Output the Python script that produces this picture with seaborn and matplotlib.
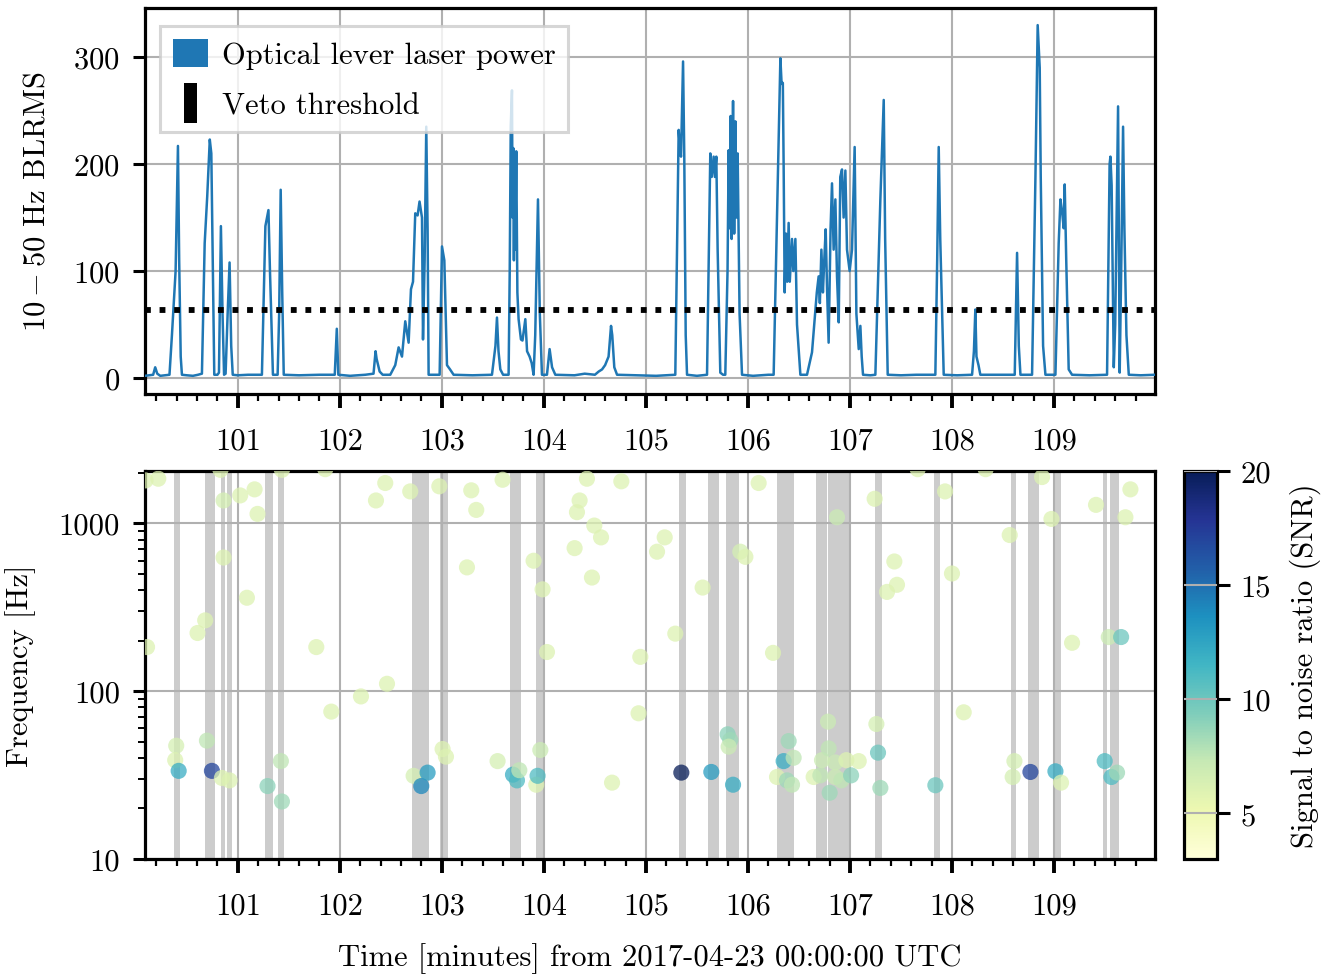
import numpy as np
import pandas as pd
import matplotlib
matplotlib.use("Agg")
import matplotlib.pyplot as plt
import seaborn as sns
from matplotlib.patches import Patch, Rectangle
from matplotlib.legend_handler import HandlerPatch
from matplotlib.ticker import MultipleLocator, FixedLocator, FuncFormatter, LogLocator, NullFormatter
from matplotlib.colors import Normalize
from matplotlib.cm import ScalarMappable

# ---------------- data ----------------
blrms_time = [
    100.09, 100.17, 100.19, 100.21, 100.24, 100.33, 100.354, 100.39, 100.413, 100.425, 100.44, 100.452,
    100.50, 100.56, 100.61, 100.648, 100.675, 100.70, 100.725, 100.74, 100.755, 100.769, 100.80, 100.815,
    100.834, 100.85, 100.865, 100.88, 100.90, 100.919, 100.935, 100.95, 101.00, 101.10, 101.236, 101.27,
    101.30, 101.315, 101.344, 101.39, 101.405, 101.42, 101.435, 101.45, 101.60, 101.80, 101.95, 101.97,
    101.985, 102.10, 102.25, 102.33, 102.35, 102.36, 102.39, 102.42, 102.494, 102.543, 102.576, 102.609,
    102.641, 102.674, 102.697, 102.717, 102.739, 102.762, 102.781, 102.805, 102.815, 102.831, 102.847,
    102.860, 102.870, 102.95, 102.978, 103.001, 103.024, 103.050, 103.08, 103.115, 103.30, 103.491,
    103.525, 103.540, 103.555, 103.573, 103.60, 103.654, 103.665, 103.675, 103.687, 103.693, 103.700,
    103.706, 103.712, 103.719, 103.729, 103.740, 103.752, 103.775, 103.790, 103.818, 103.835, 103.860,
    103.880, 103.899, 103.915, 103.942, 103.960, 103.981, 104.03, 104.056, 104.08, 104.112, 104.30,
    104.40, 104.50, 104.537, 104.57, 104.60, 104.634, 104.658, 104.67, 104.69, 104.717, 104.90, 105.10,
    105.288, 105.321, 105.333, 105.344, 105.364, 105.376, 105.39, 105.403, 105.50, 105.599, 105.631,
    105.645, 105.664, 105.676, 105.690, 105.703, 105.729, 105.756, 105.778, 105.800, 105.811, 105.82,
    105.83, 105.84, 105.854, 105.865, 105.877, 105.888, 105.899, 105.918, 105.942, 106.05, 106.20,
    106.252, 106.285, 106.318, 106.330, 106.342, 106.350, 106.36, 106.373, 106.385, 106.399, 106.41,
    106.432, 106.445, 106.465, 106.481, 106.514, 106.579, 106.628, 106.65, 106.675, 106.693, 106.705,
    106.720, 106.735, 106.748, 106.762, 106.775, 106.791, 106.81, 106.824, 106.840, 106.857, 106.873,
    106.890, 106.905, 106.922, 106.938, 106.955, 106.971, 106.997, 107.020, 107.046, 107.063, 107.086,
    107.102, 107.115, 107.128, 107.20, 107.249, 107.275, 107.298, 107.331, 107.345, 107.370, 107.50,
    107.65, 107.837, 107.855, 107.870, 107.885, 107.919, 108.05, 108.197, 108.215, 108.229, 108.24,
    108.26, 108.278, 108.45, 108.615, 108.638, 108.655, 108.671, 108.785, 108.818, 108.840, 108.860,
    108.870, 108.893, 108.916, 109.014, 109.046, 109.063, 109.08, 109.095, 109.105, 109.12, 109.144,
    109.177, 109.35, 109.520, 109.545, 109.553, 109.565, 109.586, 109.60, 109.628, 109.644, 109.66,
    109.677, 109.690, 109.710, 109.733, 109.85, 109.99,
]
blrms_value = [
    2, 3, 10, 4, 2, 3, 40, 100, 217, 110, 20, 3,
    2.5, 2, 3, 4, 126, 170, 223, 210, 100, 3, 3, 5,
    142, 60, 3, 4, 60, 108, 30, 3, 2.5, 3, 3, 142,
    157, 100, 3, 3, 60, 176, 80, 3, 2.5, 3, 3, 46,
    3, 2, 3, 4, 25, 18, 6, 3, 3, 12, 28.6, 20,
    53, 33, 83, 90, 154, 152, 165, 150, 36, 110, 235,
    139, 3, 3, 3, 123, 110, 12, 8, 3, 2.5, 3,
    30, 56.5, 25, 8, 3, 3, 100, 235, 269, 150, 215,
    110, 205, 120, 212, 80, 55, 36, 35, 55, 25, 20,
    14, 3, 40, 167, 60, 3, 3, 27, 10, 3, 2.5,
    4, 3, 6, 8, 12, 20, 48.7, 40, 10, 3, 2.5, 2,
    3, 232, 215, 207, 296, 207, 40, 3, 2, 3, 210,
    188, 207, 188, 207, 120, 5, 3, 3, 100, 213, 140,
    245, 130, 259, 135, 240, 150, 210, 60, 3, 2, 3,
    3, 151, 299, 275, 276, 198, 80, 135, 90, 145, 90,
    130, 100, 130, 50, 3, 3, 24, 50, 80, 95, 70,
    120, 80, 110, 139, 85, 33, 140, 182, 120, 167, 95,
    52, 188, 195, 150, 194, 120, 100, 120, 216, 60, 27,
    48.7, 20, 3, 2.5, 3, 90, 167, 260, 130, 3, 2.5,
    3, 3, 110, 216, 130, 3, 2.5, 3, 25, 64, 20,
    12, 3, 3, 3, 117, 30, 3, 3, 188, 330, 290,
    188, 30, 3, 3, 126, 167, 155, 140, 181, 110, 8,
    3, 2.5, 3, 200, 207, 180, 10, 50, 254, 5, 110,
    235, 140, 40, 3, 2.5, 3,
]
veto_threshold = 64

veto_start = [100.376, 100.68, 100.836, 100.89, 101.269, 101.39, 102.71, 102.984, 103.664, 103.922,
              105.32, 105.609, 105.785, 106.285, 106.668, 106.781, 107.249, 107.828, 108.582, 108.746,
              108.997, 109.481, 109.553]
veto_end = [100.435, 100.78, 100.876, 100.94, 101.34, 101.448, 102.874, 103.056, 103.778, 103.987,
            105.396, 105.713, 105.909, 106.455, 106.775, 106.997, 107.315, 107.879, 108.628, 108.85,
            109.07, 109.52, 109.641]

trig_time = [
    100.22, 100.095, 100.83, 100.86, 101.023, 101.164, 101.193, 101.432, 101.857, 102.354, 102.445,
    102.69, 102.975, 103.288, 103.337, 103.595, 104.301, 104.324, 104.35, 104.422, 104.471, 104.494,
    104.56, 104.759, 105.109, 105.184, 105.288, 105.556, 105.925, 105.975, 106.105, 106.246, 106.873,
    107.242, 107.363, 107.435, 107.461, 107.664, 107.932, 108.0, 108.115, 108.33, 108.566, 108.883,
    108.975, 109.177, 109.412, 109.537, 109.658, 109.70, 109.749,
    100.11, 100.605, 100.68, 100.86, 101.089, 101.769, 101.916, 102.207, 102.462, 103.246, 103.899,
    103.987, 104.03, 104.928, 104.945, 106.785, 107.259,
    100.396, 100.386, 100.42, 100.697, 100.746, 100.844, 100.919, 101.291, 101.422, 101.432, 102.723,
    102.798, 102.860, 103.007, 103.04, 103.546, 103.697, 103.736, 103.759, 103.925, 103.938, 103.965,
    104.668, 105.347, 105.641, 105.801, 105.827, 105.811, 105.854, 106.285, 106.350, 106.399, 106.448,
    106.383, 106.432, 106.644, 106.71, 106.726, 106.791, 106.801, 106.857, 106.857, 106.916, 106.965,
    107.011, 107.086, 107.275, 107.298, 107.837, 108.595, 108.612, 108.769, 109.014, 109.069, 109.497,
    109.563, 109.618,
]
trig_freq = [
    1842, 1800, 2080, 1367, 1465, 1592, 1137, 2080, 2100, 1367, 1737,
    1548, 1660, 1571, 1201, 1816, 711, 1164, 1367, 1842, 475, 969,
    824, 1778, 677, 824, 220, 414, 677, 631, 1737, 169, 1086,
    1399, 390, 592, 430, 2100, 1548, 502, 74.8, 2100, 851, 1885,
    1061, 194, 1287, 210, 210, 1086, 1592,
    183, 222, 264, 625, 360, 183, 75.5, 93, 110.6, 546, 598,
    404, 171, 73.8, 160, 65.8, 63.7,
    47.3, 38.8, 33.5, 50.7, 33.5, 30.4, 29.4, 27.2, 38.3, 22.0, 31.3,
    27.2, 32.7, 45.2, 40.7, 38.3, 31.8, 29.4, 33.8, 27.7, 31.3, 44.6,
    28.5, 32.7, 33.0, 55.3, 51.1, 46.7, 27.7, 30.8, 38.3, 50.4, 40.1,
    29.4, 27.7, 30.8, 31.5, 38.8, 45.6, 24.8, 37.6, 30.8, 29.4, 38.8,
    31.5, 38.3, 43.0, 26.5, 27.5, 30.8, 38.3, 33.0, 33.3, 28.5, 38.3,
    30.8, 32.7,
]
trig_snr = [
    6, 6, 6, 6.5, 6, 6, 6, 6, 6, 6, 6,
    6, 6, 6, 6, 6, 6, 6, 6, 6, 6, 6,
    6, 6, 6, 6, 6, 6, 6.5, 6, 6, 6, 7,
    6, 6, 6, 6, 6, 6, 6, 6, 6, 6, 6,
    6, 6, 6, 7, 10, 6, 6,
    6, 6, 6, 6, 6, 6, 6, 6, 6, 6, 6,
    6, 6, 6, 6, 7, 6.5,
    6.5, 6, 12, 7.5, 17, 6, 6, 9, 7.5, 8.5, 6.5,
    14, 13, 6, 6, 6.5, 12, 11, 7.5, 6, 11, 7,
    6, 20, 13, 9, 8.5, 7, 12, 6, 12, 8.5, 7.5,
    8.5, 7.5, 6, 7.5, 7, 7.5, 8.5, 7, 7, 7.5, 6,
    9, 6, 10, 8.5, 10, 6.5, 6.5, 17, 12, 6, 11,
    11, 8.5,
]
snr_min, snr_max = 3, 20
cbar_ticks = [5, 10, 15, 20]
freq_ticks = [10, 100, 1000]
power_ticks = [0, 100, 200, 300]

# ---------------- style ----------------
sns.set_theme(style="whitegrid")
FS = 22
plt.rcParams.update({
    "font.family": ["cmr10", "DejaVu Serif"],
    "mathtext.fontset": "cm",
    "axes.formatter.use_mathtext": True,
    "axes.unicode_minus": False,
    "font.size": FS,
    "axes.labelsize": FS,
    "xtick.labelsize": FS,
    "ytick.labelsize": FS,
    "legend.fontsize": FS,
    "axes.edgecolor": "black",
    "axes.linewidth": 2.3,
    "grid.color": "#b0b0b0",
    "grid.linewidth": 1.5,
    "xtick.color": "black",
    "ytick.color": "black",
    "text.color": "black",
    "axes.labelcolor": "black",
})

W, H = 1324, 979
fig = plt.figure(figsize=(W / 100, H / 100), dpi=100)
ax1 = fig.add_axes([145 / W, 1 - 395 / H, 1010 / W, 386 / H])
ax2 = fig.add_axes([145 / W, 1 - 860 / H, 1010 / W, 388 / H])
cax = fig.add_axes([1184 / W, 1 - 860 / H, 33 / W, 388 / H])

blue = "#1f77b4"

# ---------------- top panel ----------------
df_line = pd.DataFrame({"time": blrms_time, "blrms": blrms_value})
sns.lineplot(data=df_line, x="time", y="blrms", ax=ax1, color=blue, lw=1.8,
             sort=False, estimator=None, zorder=3)
ax1.axhline(veto_threshold, color="black", lw=4.2, linestyle=(0, (1, 1.5)), zorder=4)
ax1.set_ylim(-15, 346)
ax1.yaxis.set_major_locator(FixedLocator(power_ticks))
ax1.set_ylabel(r"$10-50$ Hz BLRMS")
ax1.yaxis.set_label_coords(-0.094, 0.5)
ax1.set_xlabel("")


def make_rect(w_em, h_em):
    def f(legend, orig_handle, xdescent, ydescent, width, height, fontsize):
        w = w_em * fontsize
        h = h_em * fontsize
        cx = -xdescent + width / 2
        cy = -ydescent + height / 2
        return Rectangle((cx - w / 2, cy - h / 2), w, h)
    return f


handles = [Patch(facecolor=blue, edgecolor="none"), Patch(facecolor="black", edgecolor="none")]
leg = ax1.legend(handles, ["Optical lever laser power", "Veto threshold"],
                 loc="upper left", bbox_to_anchor=(0.0149, 0.953), borderaxespad=0,
                 handlelength=1.15, handleheight=1.0, handletextpad=0.45, borderpad=0.42,
                 labelspacing=0.66, fancybox=False, framealpha=0.8, edgecolor="#cccccc",
                 handler_map={handles[0]: HandlerPatch(patch_func=make_rect(1.15, 0.92)),
                              handles[1]: HandlerPatch(patch_func=make_rect(0.42, 1.3))})
leg.get_frame().set_linewidth(2.2)

# ---------------- bottom panel ----------------
for s, e in zip(veto_start, veto_end):
    ax2.axvspan(s, e, color="#cccccc", lw=0, zorder=0.2)

df_trig = pd.DataFrame({"time": trig_time, "freq": trig_freq, "snr": trig_snr})
sns.scatterplot(data=df_trig, x="time", y="freq", hue="snr", palette="YlGnBu",
                hue_norm=(snr_min, snr_max), s=135, alpha=0.75, linewidth=0,
                legend=False, ax=ax2, zorder=3)
ax2.set_yscale("log")
ax2.set_ylim(10, 2048)
ax2.yaxis.set_major_locator(FixedLocator(freq_ticks))
ax2.yaxis.set_major_formatter(FuncFormatter(lambda v, p: f"{v:g}"))
ax2.yaxis.set_minor_locator(LogLocator(base=10, subs=np.arange(2, 10)))
ax2.yaxis.set_minor_formatter(NullFormatter())
ax2.set_ylabel("Frequency [Hz]")
ax2.yaxis.set_label_coords(-0.108, 0.5)
ax2.set_xlabel("Time [minutes] from 2017-04-23 00:00:00 UTC")
ax2.xaxis.set_label_coords(0.5, -0.215)

for ax in (ax1, ax2):
    ax.set_xlim(100.09, 109.99)
    ax.xaxis.set_major_locator(MultipleLocator(1))
    ax.xaxis.set_minor_locator(MultipleLocator(0.2))
    ax.xaxis.set_major_formatter(FuncFormatter(lambda v, p: f"{v:g}"))
    ax.grid(which="major", color="#b0b0b0", lw=1.5)
    ax.grid(which="minor", visible=False)
    ax.tick_params(axis="x", which="major", bottom=True, length=10, width=2.8, direction="out", pad=14)
    ax.tick_params(axis="x", which="minor", bottom=True, length=5, width=1.6, direction="out")
    ax.tick_params(axis="y", which="major", left=True, length=9, width=2.2, direction="out", pad=9)
    ax.tick_params(axis="y", which="minor", left=True, length=5, width=1.4, direction="out")
    for sp in ax.spines.values():
        sp.set_color("black")
        sp.set_linewidth(2.3)
    ax.set_axisbelow(True)

# ---------------- colorbar ----------------
sm = ScalarMappable(norm=Normalize(snr_min, snr_max), cmap="YlGnBu")
cb = fig.colorbar(sm, cax=cax)
cb.set_ticks(cbar_ticks)
cb.ax.yaxis.set_major_formatter(FuncFormatter(lambda v, p: f"{v:g}"))
cb.set_label("Signal to noise ratio (SNR)")
cb.outline.set_linewidth(2.3)
cb.outline.set_edgecolor("black")
cax.tick_params(axis="y", which="major", right=True, length=9, width=2.2, pad=8)
cax.tick_params(axis="y", which="minor", right=False, length=0)
cax.yaxis.set_label_coords(3.2, 0.5)
cax.set_axisbelow(False)
cax.yaxis.grid(True, color="#b0b0b0", lw=1.5)
cax.xaxis.grid(False)

fig.savefig("out.png", dpi=100)
